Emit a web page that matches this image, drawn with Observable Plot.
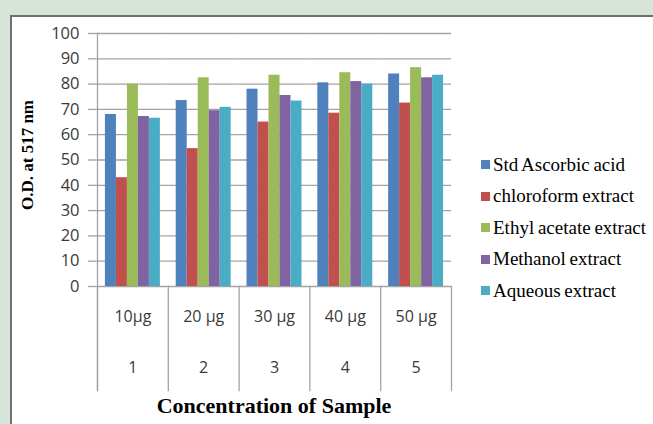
<!DOCTYPE html>
<html>
<head>
<meta charset="utf-8">
<script src="https://cdn.jsdelivr.net/npm/d3@7"></script>
<script src="https://cdn.jsdelivr.net/npm/@observablehq/plot@0.6"></script>
<style>
  html, body { margin: 0; padding: 0; }
  body { width: 653px; height: 424px; background: #d6e4da; position: relative; overflow: hidden; }
  #panel { position: absolute; left: 10px; top: 15px; width: 660px; height: 420px; background: #fff;
           border-top: 2px solid #707070; border-left: 2px solid #707070; box-sizing: border-box; }
  #chart { position: absolute; left: 0; top: 0; }
  .title { position: absolute; font-family: "Liberation Serif", "Times New Roman", serif; font-weight: bold; color: #000; white-space: nowrap; }
  #ytitle { left: 28px; top: 155px; font-size: 17px; transform: translate(-50%, -50%) rotate(-90deg); }
  #xtitle { left: 274px; top: 406px; font-size: 22px; transform: translate(-50%, -50%); }
  #legend { position: absolute; left: 481px; top: 149px; font-family: "Liberation Serif", "Times New Roman", serif; font-size: 19px; color: #000; }
  .item { height: 31.5px; display: flex; align-items: center; white-space: nowrap; word-spacing: -1px; }
  .sw { width: 9px; height: 9px; margin-right: 3px; flex: none; }
</style>
</head>
<body>
<div id="panel"></div>
<div id="chart"></div>
<div id="ytitle" class="title">O.D. at 517 nm</div>
<div id="xtitle" class="title">Concentration of Sample</div>
<div id="legend"></div>
<script>
// ---- data ----
const groups = [1, 2, 3, 4, 5];
const groupLabels = ["10μg", "20 μg", "30 μg", "40 μg", "50 μg"];
const series = ["Std Ascorbic acid", "chloroform extract", "Ethyl acetate extract", "Methanol extract", "Aqueous extract"];
const stdAscorbic = [68, 73.5, 78, 80.5, 84];
const chloroform  = [43, 54.5, 65, 68.5, 72.5];
const ethylAcetate = [80, 82.5, 83.5, 84.5, 86.5];
const methanol = [67.2, 69.5, 75.5, 81, 82.5];
const aqueous = [66.5, 70.8, 73.3, 80, 83.5];
const yTicks = [0, 10, 20, 30, 40, 50, 60, 70, 80, 90, 100];
const colors = ["#4f81bd", "#c0504d", "#9bbb59", "#8064a2", "#4bacc6"];

const valuesBySeries = [stdAscorbic, chloroform, ethylAcetate, methanol, aqueous];
const rows = [];
series.forEach((s, si) => groups.forEach((g, gi) => rows.push({group: g, series: s, value: valuesBySeries[si][gi]})));

const gridColor = "#a3a3a3";
const textColor = "#3a3a3a";

const chart = Plot.plot({
  width: 653,
  height: 424,
  marginLeft: 97,
  marginRight: 202,
  marginTop: 33,
  marginBottom: 138,
  style: {background: "transparent", overflow: "visible", fontFamily: "'Open Sans', sans-serif", fontSize: "16px", color: textColor},
  fx: {domain: groups, padding: 0, round: false},
  x: {domain: series, paddingInner: 0, paddingOuter: 0.72, round: false, axis: null},
  y: {domain: [0, 100], axis: null},
  color: {domain: series, range: colors},
  marks: [
    Plot.gridY(yTicks, {stroke: gridColor, strokeOpacity: 1, strokeWidth: 1.3}),
    Plot.barY(rows, {fx: "group", x: "series", y: "value", fill: "series"}),
    Plot.axisY(yTicks, {tickSize: 9, tickPadding: 9, stroke: gridColor, strokeWidth: 1.3, fill: textColor, fontSize: 16.5, label: null}),
    Plot.frame({anchor: "left", facetAnchor: "left", insetBottom: -104, stroke: gridColor, strokeWidth: 1.3}),
    Plot.frame({anchor: "left", insetTop: 253, insetBottom: -104, stroke: gridColor, strokeWidth: 1.3}),
    Plot.frame({anchor: "right", facetAnchor: "right", insetTop: 253, insetBottom: -104, stroke: gridColor, strokeWidth: 1.3}),
    Plot.axisFx({anchor: "bottom", tickSize: 0, tickPadding: 24, tickFormat: (d) => groupLabels[groups.indexOf(d)], fill: textColor, fontSize: 16, label: null}),
    Plot.axisFx({anchor: "bottom", tickSize: 0, tickPadding: 75, tickFormat: (d) => String(d), fill: textColor, fontSize: 16, label: null})
  ]
});
document.getElementById("chart").appendChild(chart);

const legend = document.getElementById("legend");
series.forEach((s, i) => {
  const item = document.createElement("div");
  item.className = "item";
  const sw = document.createElement("span");
  sw.className = "sw";
  sw.style.background = colors[i];
  const t = document.createElement("span");
  t.textContent = s;
  item.appendChild(sw);
  item.appendChild(t);
  legend.appendChild(item);
});
</script>
</body>
</html>
